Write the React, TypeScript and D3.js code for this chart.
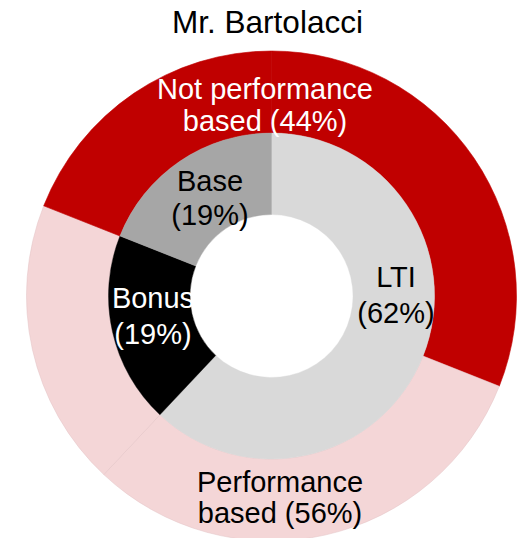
import React from "react";
import * as d3 from "d3";

const title = "Mr. Bartolacci";

// Inner ring: pay components (share of total pay, %)
const innerCategories = ["LTI", "Bonus", "Base"];
const innerValues = [62, 19, 19];
const innerLabels = ["LTI|(62%)", "Bonus|(19%)", "Base|(19%)"];

// Outer ring: performance classification of each component part (%)
const outerParts = ["LTI time-based", "LTI performance", "Bonus", "Base"];
const outerGroups = ["Not performance based", "Performance based", "Performance based", "Not performance based"];
const outerValues = [31, 31, 19, 19];
const outerGroupLabels = ["Not performance based (44%)", "Performance based (56%)"];

const W = 531;
const H = 538;
const cx = 271.5;
const cy = 296;
const rHole = 81.5;
const rMid = 163;
const rOuter = 245;

const innerColors: Record<string, string> = { LTI: "#D9D9D9", Bonus: "#000000", Base: "#A6A6A6" };
const innerText: Record<string, string> = { LTI: "#000000", Bonus: "#FFFFFF", Base: "#000000" };
const groupColors: Record<string, string> = {
  "Not performance based": "#C00000",
  "Performance based": "#F4D6D7",
};

// label anchor positions (layout, relative to chart centre)
const innerLabelPos: Record<string, { dx: number; dy: number[] }> = {
  LTI: { dx: 124.5, dy: [-9, 27] },
  Bonus: { dx: -118.5, dy: [12, 48] },
  Base: { dx: -61.5, dy: [-105, -71] },
};
const outerLabelPos = [
  { dx: -6.5, dy: [-197, -165], lines: ["Not performance", "based (44%)"] },
  { dx: 8.5, dy: [196, 227], lines: ["Performance", "based (56%)"] },
];

const FONT = "'Liberation Sans', Arial, Helvetica, sans-serif";

export default function App() {
  const innerPie = d3
    .pie<number>()
    .sort(null)
    .value((d) => d)(innerValues);
  const outerPie = d3
    .pie<number>()
    .sort(null)
    .value((d) => d)(outerValues);

  const innerArc = d3.arc<d3.PieArcDatum<number>>().innerRadius(rHole).outerRadius(rMid);
  const outerArc = d3.arc<d3.PieArcDatum<number>>().innerRadius(rMid).outerRadius(rOuter);

  return (
    <svg
      width={W}
      height={H}
      style={{ position: "absolute", left: 0, top: 0, background: "#fff" }}
      fontFamily={FONT}
    >
      <text x={267.5} y={33} textAnchor="middle" fontSize={31.5} fill="#000">
        {title}
      </text>
      <g transform={`translate(${cx},${cy})`}>
        {outerPie.map((p, i) => {
          const g = outerGroups[i];
          const fill = groupColors[g];
          const isPerf = g === "Performance based";
          return (
            <path
              key={outerParts[i]}
              d={outerArc(p) || ""}
              fill={fill}
              stroke={isPerf ? "#E3C3C4" : fill}
              strokeWidth={isPerf ? 0.5 : 0.6}
            />
          );
        })}
        {innerPie.map((p, i) => (
          <path
            key={innerCategories[i]}
            d={innerArc(p) || ""}
            fill={innerColors[innerCategories[i]]}
            stroke={innerColors[innerCategories[i]]}
            strokeWidth={0.4}
          />
        ))}
        {innerCategories.map((c, i) => {
          const pos = innerLabelPos[c];
          const lines = innerLabels[i].split("|");
          return (
            <text key={c} textAnchor="middle" fontSize={29} fill={innerText[c]}>
              {lines.map((l, j) => (
                <tspan key={j} x={pos.dx} y={pos.dy[j]}>
                  {l}
                </tspan>
              ))}
            </text>
          );
        })}
        {outerLabelPos.map((pos, i) => (
          <text
            key={outerGroupLabels[i]}
            textAnchor="middle"
            fontSize={29}
            fill={i === 0 ? "#FFFFFF" : "#000000"}
          >
            {pos.lines.map((l, j) => (
              <tspan key={j} x={pos.dx} y={pos.dy[j]}>
                {l}
              </tspan>
            ))}
          </text>
        ))}
      </g>
    </svg>
  );
}
